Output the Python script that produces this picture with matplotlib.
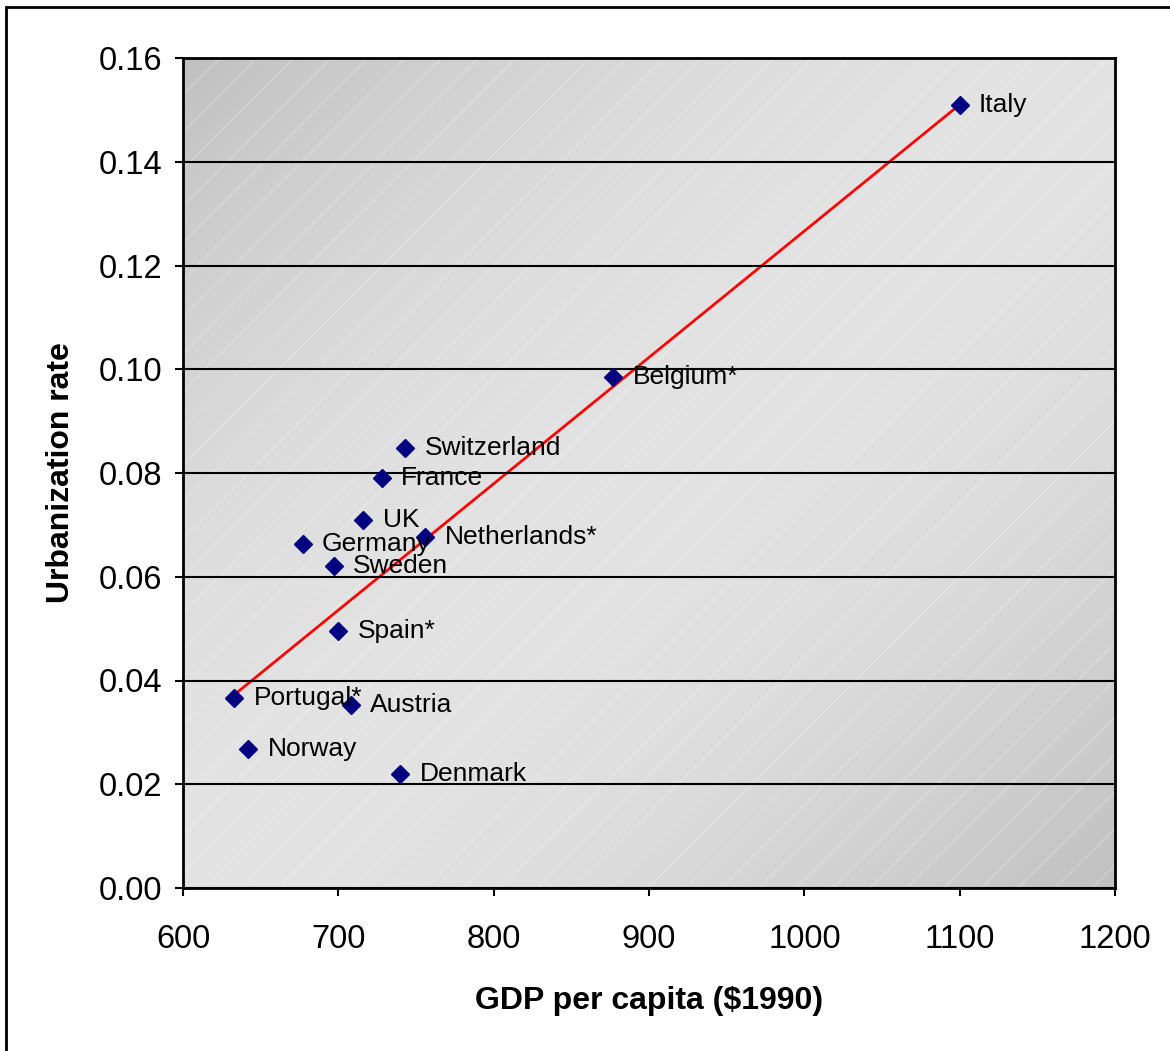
import numpy as np
import matplotlib
matplotlib.use("Agg")
import matplotlib.pyplot as plt
from matplotlib.patches import Rectangle
from matplotlib.ticker import FormatStrFormatter

plt.rcParams['font.family'] = ['Liberation Sans', 'DejaVu Sans']

# GDP per capita vs urbanization, by country
countries = ["Italy", "Belgium*", "Switzerland", "France", "UK", "Netherlands*",
             "Germany", "Sweden", "Spain*", "Portugal*", "Austria", "Norway", "Denmark"]
gdp = [1100, 877, 743, 728, 716, 756, 677, 697, 700, 633, 708, 642, 740]
urban = [0.1509, 0.0985, 0.0848, 0.0790, 0.0709, 0.0677,
         0.0663, 0.0621, 0.0495, 0.0366, 0.0353, 0.0268, 0.0220]

# trend line end points
trend_x = [632, 1100]
trend_y = [0.0370, 0.1510]

W, H, DPI = 1170, 1051, 100
fig = plt.figure(figsize=(W / DPI, H / DPI), dpi=DPI)
ax = fig.add_axes([183 / W, 1 - 888 / H, (1115 - 183) / W, (888 - 58) / H])

# diagonal gradient background, light along the rising diagonal
n = 300
u, v = np.meshgrid(np.linspace(0, 1, n), np.linspace(0, 1, n))
d = np.abs(u - v)
shade = (227 - 35 * d ** 1.8) / 255.0
ax.imshow(np.dstack([shade, shade, shade]), extent=[0, 1, 0, 1], origin='lower',
          transform=ax.transAxes, aspect='auto', zorder=0, interpolation='bilinear')

# faint diagonal stripes
pos = ax.get_position()
aw, ah = pos.width * W, pos.height * H
step = 37 / aw
for x0 in np.arange(-ah / aw, 1, step):
    ax.plot([x0, x0 + ah / aw], [0, 1], transform=ax.transAxes, color='white',
            lw=0.8, alpha=0.3, zorder=0.5)

ax.set_xlim(600, 1200)
ax.set_ylim(0, 0.16)
ax.set_xticks(np.arange(600, 1201, 100))
ax.set_yticks(np.arange(0, 0.161, 0.02))
ax.yaxis.set_major_formatter(FormatStrFormatter('%.2f'))

ax.grid(axis='y', color='black', lw=1.5, zorder=1)
ax.set_axisbelow(False)
for s in ax.spines.values():
    s.set_linewidth(2)
    s.set_zorder(3)

ax.plot(trend_x, trend_y, color='red', lw=2, zorder=2)
ax.plot(gdp, urban, linestyle='none', marker='D', ms=9, color='#000080', zorder=4)

for name, x, y in zip(countries, gdp, urban):
    ax.annotate(name, (x, y), xytext=(14, 0), textcoords='offset points',
                va='center', ha='left', fontsize=19, zorder=5)

ax.tick_params(direction='out', length=6, width=1.5, labelsize=23.5, pad=9)
ax.tick_params(axis='x', pad=20)
ax.set_xlabel("GDP per capita ($1990)", fontsize=23, fontweight='bold', labelpad=22)
ax.set_ylabel("Urbanization rate", fontsize=23, fontweight='bold', labelpad=16)

# outer frame
fig.patches.append(Rectangle((6 / W, -0.05), 1.2, 1 - 7 / H + 0.05, transform=fig.transFigure,
                             fill=False, edgecolor='black', lw=2))

fig.savefig("out.png", dpi=DPI)
